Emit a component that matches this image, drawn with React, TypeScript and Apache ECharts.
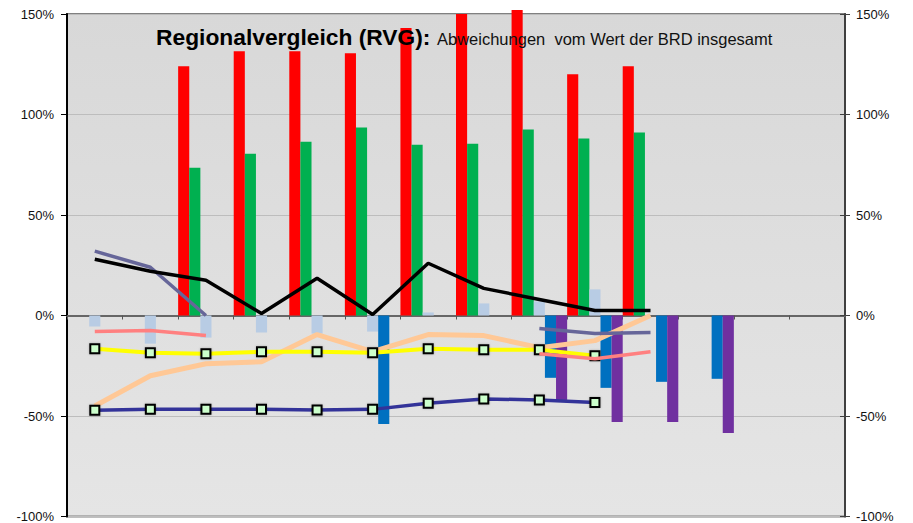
import React, { useEffect, useRef } from "react";
import * as echarts from "echarts";

const categories = ["1", "2", "3", "4", "5", "6", "7", "8", "9", "10", "11", "12", "13", "14"];
const yTicks = [-100, -50, 0, 50, 100, 150];

const redBars = [null, null, 124, 131.5, 131.5, 130.5, 143, 150, 152, 120, 124, null, null, null];
const greenBars = [null, null, 73.5, 80.5, 86.5, 93.5, 85, 85.5, 92.5, 88, 91, null, null, null];
const lightBlueBars = [-5.5, -14, -11, -8.5, -9, -8, 1.5, 6, 7, 13, null, null, null, null];
const blueBars = [null, null, null, null, null, -54, null, null, -31, -36, -33, -31.5, null, null];
const purpleBars = [null, null, null, null, null, null, null, null, -42, -53, -53, -58.5, null, null];

const blackLine = [28, 22, 17.5, 1, 18.5, 0.5, 26, 13.5, 8, 2.5, 2.5, null, null, null];
const slateLine = [32, 24, 0, null, null, null, null, null, -6.5, -9, -8.5, null, null, null];
const pinkLine = [-8, -7.5, -10, null, null, null, null, null, -19, -21.5, -18, null, null, null];
const peachLine = [-45, -30, -24, -23, -9.5, -18, -9.5, -10, -16, -12.5, 0, null, null, null];
const yellowLine = [-16.5, -18.5, -19, -18, -18, -18.5, -16.5, -17, -17, -20, null, null, null, null];
const navyLine = [-47.2, -46.7, -46.7, -46.7, -47, -46.7, -43.7, -41.5, -42, -43.3, null, null, null, null];

const titleBold = "Regionalvergleich (RVG):";
const titleNormal = "Abweichungen  vom Wert der BRD insgesamt";

const FONT = "'Liberation Sans', Arial, sans-serif";

export default function App() {
  const ref = useRef<HTMLDivElement>(null);
  useEffect(() => {
    if (!ref.current) return;
    const chart = echarts.init(ref.current, null, { renderer: "svg" });
    const yMin = yTicks[0];
    const yMax = yTicks[yTicks.length - 1];
    const yInterval = yTicks[1] - yTicks[0];
    const markerStyle = {
      color: "#CCFFCC",
      borderColor: "#000000",
      borderWidth: 2,
      shadowColor: "rgba(0,0,0,0.25)",
      shadowBlur: 2,
    };
    const barSeries = (name: string, data: (number | null)[], color: string, extra: any = {}) => ({
      name,
      type: "bar",
      data,
      barGap: "0%",
      barCategoryGap: "0%",
      itemStyle: { color },
      z: 2,
      ...extra,
    });
    const lineSeries = (name: string, data: (number | null)[], color: string, width: number, z: number, markers = false) => ({
      name,
      type: "line",
      data,
      symbol: markers ? "rect" : "none",
      symbolSize: 9,
      showSymbol: markers,
      itemStyle: markers ? markerStyle : { color },
      lineStyle: { color, width },
      z,
    });
    chart.setOption({
      animation: false,
      grid: {
        left: 67,
        right: 68,
        top: 14,
        bottom: 6,
        show: true,
        borderColor: "#808080",
        borderWidth: 2,
        backgroundColor: {
          type: "linear",
          x: 0,
          y: 0,
          x2: 0,
          y2: 1,
          colorStops: [
            { offset: 0, color: "#D8D8D8" },
            { offset: 1, color: "#E5E5E5" },
          ],
        },
      },
      xAxis: {
        type: "category",
        data: categories,
        axisLine: { onZero: true, lineStyle: { color: "#666666", width: 2 } },
        axisTick: { show: true, length: 4, lineStyle: { color: "#555555", width: 1 } },
        axisLabel: { show: false },
        splitLine: { show: false },
      },
      yAxis: [
        {
          type: "value",
          position: "left",
          min: yMin,
          max: yMax,
          interval: yInterval,
          axisLine: { show: true, lineStyle: { color: "#000000", width: 2 } },
          axisTick: { show: true, length: 6, lineStyle: { color: "#000000" } },
          axisLabel: { formatter: "{value}%", fontSize: 13, color: "#111111", fontFamily: FONT, margin: 13 },
          splitLine: { show: true, lineStyle: { color: "#BDBDBD", width: 1 } },
        },
        {
          type: "value",
          position: "right",
          min: yMin,
          max: yMax,
          interval: yInterval,
          axisLine: { show: true, lineStyle: { color: "#404040", width: 2 } },
          axisTick: { show: true, length: 5, lineStyle: { color: "#404040" } },
          axisLabel: { formatter: "{value}%", fontSize: 13, color: "#111111", fontFamily: FONT, margin: 11 },
          splitLine: { show: false },
        },
        {
          type: "value",
          position: "right",
          min: yMin,
          max: yMax,
          interval: yInterval,
          axisLine: { show: false },
          axisTick: { show: true, inside: true, length: 5, lineStyle: { color: "#404040" } },
          axisLabel: { show: false },
          splitLine: { show: false },
        },
      ],
      series: [
        barSeries("Rot", redBars, "#FF0000", { clip: false }),
        barSeries("Grün", greenBars, "#00B050"),
        barSeries("Hellblau", lightBlueBars, "#B8CCE4"),
        barSeries("Blau", blueBars, "#0070C0"),
        barSeries("Lila", purpleBars, "#7030A0"),
        lineSeries("Pfirsich", peachLine, "#FFC896", 5, 3),
        lineSeries("Gelb", yellowLine, "#FFFF00", 4, 4, true),
        lineSeries("Rosa", pinkLine, "#FF8080", 3.5, 5),
        lineSeries("Schiefer", slateLine, "#666699", 3.5, 6),
        lineSeries("Dunkelblau", navyLine, "#333399", 3.5, 7, true),
        lineSeries("Schwarz", blackLine, "#000000", 3.5, 8),
      ],
      graphic: [
        {
          type: "text",
          x: 156,
          y: 37,
          z: 100,
          style: {
            text: titleBold,
            font: `bold 22.8px ${FONT}`,
            fill: "#000000",
            verticalAlign: "middle",
            align: "left",
          },
        },
        {
          type: "text",
          x: 437,
          y: 38.5,
          z: 100,
          style: {
            text: titleNormal,
            font: `16.5px ${FONT}`,
            fill: "#111111",
            verticalAlign: "middle",
            align: "left",
          },
        },
      ],
    });
    return () => chart.dispose();
  }, []);
  return <div ref={ref} style={{ width: 913, height: 523, position: "absolute", left: 0, top: 0 }} />;
}
